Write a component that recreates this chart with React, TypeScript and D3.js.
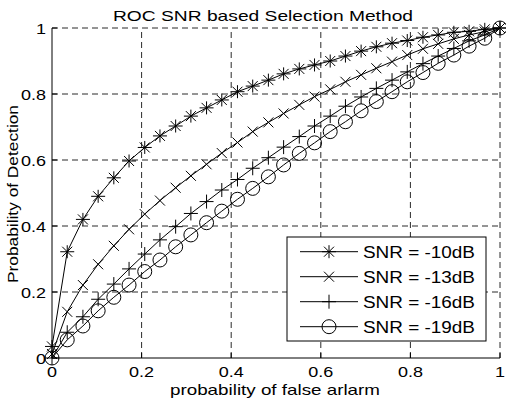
import React from "react";
import * as d3 from "d3";

// false alarm probability (x) shared by every curve
const pfa = [
  0, 0.034, 0.069, 0.103, 0.138, 0.172, 0.207, 0.241, 0.276, 0.31, 0.345, 0.379,
  0.414, 0.448, 0.483, 0.517, 0.552, 0.586, 0.621, 0.655, 0.69, 0.724, 0.759,
  0.793, 0.828, 0.862, 0.897, 0.931, 0.966, 1,
];

const pdSnr10 = [
  0.035, 0.322, 0.42, 0.49, 0.546, 0.597, 0.638, 0.673, 0.703, 0.733, 0.758,
  0.782, 0.807, 0.824, 0.842, 0.861, 0.876, 0.888, 0.9, 0.915, 0.93, 0.943,
  0.954, 0.962, 0.972, 0.979, 0.987, 0.99, 0.996, 1,
];
const pdSnr13 = [
  0.012, 0.14, 0.221, 0.284, 0.34, 0.39, 0.436, 0.477, 0.516, 0.552, 0.587,
  0.621, 0.653, 0.686, 0.714, 0.741, 0.767, 0.792, 0.814, 0.837, 0.858, 0.878,
  0.898, 0.918, 0.937, 0.952, 0.967, 0.979, 0.989, 1,
];
const pdSnr16 = [
  0, 0.078, 0.125, 0.178, 0.224, 0.27, 0.315, 0.358, 0.398, 0.438, 0.474, 0.509,
  0.541, 0.575, 0.607, 0.639, 0.671, 0.703, 0.733, 0.763, 0.791, 0.817, 0.842,
  0.867, 0.892, 0.915, 0.938, 0.961, 0.979, 1,
];
const pdSnr19 = [
  0, 0.055, 0.097, 0.143, 0.184, 0.221, 0.262, 0.297, 0.337, 0.373, 0.41, 0.445,
  0.481, 0.514, 0.549, 0.585, 0.62, 0.652, 0.686, 0.716, 0.749, 0.777, 0.807,
  0.837, 0.865, 0.893, 0.918, 0.945, 0.969, 1,
];

const seriesNames = ["SNR = -10dB", "SNR = -13dB", "SNR = -16dB", "SNR = -19dB"];
const seriesMarkers = ["star", "x", "plus", "circle"];
const seriesValues = [pdSnr10, pdSnr13, pdSnr16, pdSnr19];

const xTicks = [0, 0.2, 0.4, 0.6, 0.8, 1];
const yTicks = [0, 0.2, 0.4, 0.6, 0.8, 1];
const xTickLabels = ["0", "0.2", "0.4", "0.6", "0.8", "1"];
const yTickLabels = ["0", "0.2", "0.4", "0.6", "0.8", "1"];

const W = 506;
const H = 403;
const FONT = "Liberation Sans, Arial, sans-serif";
const TXT_SX = 1.2; // reference text is stretched horizontally

const Marker = ({ kind, x, y }: { kind: string; x: number; y: number }) => {
  const s = { stroke: "#000", strokeWidth: 1, fill: "none" };
  if (kind === "circle") return <circle cx={x} cy={y} r={7} {...s} />;
  if (kind === "plus")
    return (
      <path d={`M${x - 7},${y}H${x + 7}M${x},${y - 7}V${y + 7}`} {...s} />
    );
  if (kind === "x")
    return (
      <path
        d={`M${x - 5},${y - 5}L${x + 5},${y + 5}M${x - 5},${y + 5}L${x + 5},${y - 5}`}
        {...s}
      />
    );
  // star = plus + x
  return (
    <path
      d={`M${x - 7},${y}H${x + 7}M${x},${y - 6.5}V${y + 6.5}M${x - 5},${y - 5}L${x + 5},${y + 5}M${x - 5},${y + 5}L${x + 5},${y - 5}`}
      {...s}
    />
  );
};

const App = () => {
  const x = d3.scaleLinear().domain([0, 1]).range([52, 500]);
  const y = d3.scaleLinear().domain([0, 1]).range([358, 28]);

  const line = d3
    .line<number>()
    .x((_, i) => x(pfa[i]))
    .y((d) => y(d));

  const legend = { x0: 287, y0: 237, x1: 486, y1: 341 };
  const legendRowY = (i: number) => 251.7 + i * 25;

  return (
    <svg
      width={W}
      height={H}
      style={{ position: "absolute", left: 0, top: 0, background: "#fff" }}
    >
      <rect width={W} height={H} fill="#fff" />

      {/* dashed grid */}
      <g stroke="#2a2a2a" strokeWidth={1} strokeDasharray="6,4" fill="none">
        {xTicks.slice(1).map((t) => (
          <line key={"gx" + t} x1={x(t)} x2={x(t)} y1={y(0)} y2={y(1)} />
        ))}
        {yTicks.slice(1).map((t) => (
          <line key={"gy" + t} x1={x(0)} x2={x(1)} y1={y(t)} y2={y(t)} />
        ))}
      </g>

      {/* curves */}
      {seriesValues.map((vals, si) => (
        <g key={"s" + si}>
          <path d={line(vals) || ""} fill="none" stroke="#000" strokeWidth={1} />
          {vals.map((v, i) => (
            <Marker key={i} kind={seriesMarkers[si]} x={x(pfa[i])} y={y(v)} />
          ))}
        </g>
      ))}

      {/* axes */}
      <g stroke="#000" strokeWidth={1}>
        <line x1={x(0)} x2={x(0)} y1={y(0)} y2={y(1)} />
        <line x1={x(0)} x2={x(1)} y1={y(0)} y2={y(0)} />
        {xTicks.map((t) => (
          <line key={"tx" + t} x1={x(t)} x2={x(t)} y1={y(0)} y2={y(0) - 5} />
        ))}
        {yTicks.map((t) => (
          <line key={"ty" + t} x1={x(0)} x2={x(0) + 5} y1={y(t)} y2={y(t)} />
        ))}
      </g>

      <g fontFamily={FONT} fontSize={15} fill="#000">
        {xTicks.map((t, i) => (
          <text
            key={"lx" + t}
            transform={`translate(${x(t)},377) scale(${TXT_SX},1)`}
            textAnchor="middle"
          >
            {xTickLabels[i]}
          </text>
        ))}
        {yTicks.map((t, i) => (
          <text
            key={"ly" + t}
            transform={`translate(46,${y(t) + 5.5}) scale(${TXT_SX},1)`}
            textAnchor="end"
          >
            {yTickLabels[i]}
          </text>
        ))}
        <text
          x={113}
          y={20.5}
          textLength={300}
          lengthAdjust="spacingAndGlyphs"
        >
          ROC  SNR based Selection Method
        </text>
        <text
          x={170}
          y={395}
          textLength={210}
          lengthAdjust="spacingAndGlyphs"
        >
          probability of false arlarm
        </text>
        <text
          transform="translate(18,283) rotate(-90)"
          textLength={178}
          lengthAdjust="spacingAndGlyphs"
        >
          Probability of Detection
        </text>
      </g>

      {/* legend */}
      <rect
        x={legend.x0}
        y={legend.y0}
        width={legend.x1 - legend.x0}
        height={legend.y1 - legend.y0}
        fill="#fff"
        stroke="#000"
        strokeWidth={1}
      />
      {seriesNames.map((name, i) => (
        <g key={"lg" + i}>
          <line
            x1={300}
            x2={358}
            y1={legendRowY(i)}
            y2={legendRowY(i)}
            stroke="#000"
            strokeWidth={1}
          />
          <Marker kind={seriesMarkers[i]} x={329} y={legendRowY(i)} />
          <text
            x={363}
            y={legendRowY(i) + 6}
            fontFamily={FONT}
            fontSize={16}
            textLength={112}
            lengthAdjust="spacingAndGlyphs"
          >
            {name}
          </text>
        </g>
      ))}
    </svg>
  );
};

export default App;
